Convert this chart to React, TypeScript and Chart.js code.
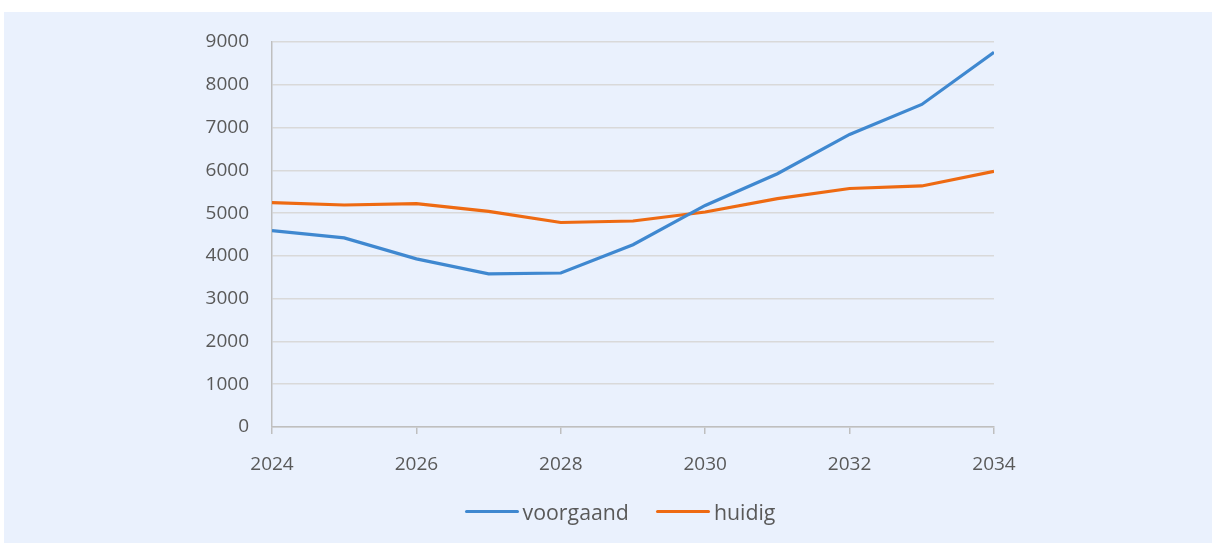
import React, { useEffect, useRef } from "react";
import { Chart, registerables } from "chart.js";

Chart.register(...registerables);

const years = [2024, 2025, 2026, 2027, 2028, 2029, 2030, 2031, 2032, 2033, 2034];
const voorgaand = [4590, 4420, 3930, 3580, 3600, 4260, 5180, 5920, 6840, 7540, 8760];
const huidig = [5245, 5190, 5220, 5040, 4780, 4815, 5025, 5340, 5575, 5635, 5975];
const seriesNames = ["voorgaand", "huidig"];
const seriesColors = ["#3F88D0", "#EE6A12"];

const FONT = "'Open Sans', 'Noto Sans', sans-serif";
const TEXT = "#595959";

export default function App() {
  const ref = useRef<HTMLCanvasElement | null>(null);

  useEffect(() => {
    if (!ref.current) return;
    const chart = new Chart(ref.current, {
      type: "line",
      data: {
        datasets: [voorgaand, huidig].map((vals, i) => ({
          label: seriesNames[i],
          data: years.map((y, j) => ({ x: y, y: vals[j] })),
          borderColor: seriesColors[i],
          backgroundColor: seriesColors[i],
          borderWidth: 3.2,
          pointRadius: 0,
          tension: 0,
          fill: false,
        })),
      },
      options: {
        responsive: false,
        animation: false,
        layout: { padding: { left: 0, right: 218, top: 30, bottom: 0 } },
        plugins: { legend: { display: false }, tooltip: { enabled: false } },
        scales: {
          x: {
            type: "linear",
            min: 2024,
            max: 2034,
            afterFit: (s: any) => { s.height = 116; s.paddingLeft = 0; s.paddingRight = 0; },
            border: { display: true, color: "#BFBFBF", width: 1.5 },
            grid: { drawOnChartArea: false, drawTicks: true, tickLength: 7, color: "#BFBFBF", lineWidth: 1.5 },
            ticks: {
              stepSize: 2,
              padding: 19,
              color: TEXT,
              font: { family: FONT, size: 19 },
              callback: (v: any) => String(v),
            },
          },
          y: {
            min: 0,
            max: 9000,
            afterFit: (s: any) => { s.width = 268; s.paddingTop = 0; s.paddingBottom = 0; },
            border: { display: true, color: "#BFBFBF", width: 1.5 },
            grid: { color: "#D9D9D9", lineWidth: 1.5, drawTicks: false },
            ticks: {
              stepSize: 1000,
              padding: 23,
              color: TEXT,
              font: { family: FONT, size: 19 },
              callback: (v: any) => String(v),
            },
          },
        },
      },
    });
    return () => chart.destroy();
  }, []);

  return (
    <div style={{ position: "absolute", left: 4, top: 12, width: 1208, height: 531, background: "#EAF1FD" }}>
      <canvas ref={ref} width={1208} height={531} style={{ position: "absolute", left: 0, top: 0, width: 1208, height: 531 }} />
      <div
        style={{
          position: "absolute",
          left: 0,
          top: 485,
          width: 1232,
          display: "flex",
          justifyContent: "center",
          alignItems: "center",
          fontFamily: FONT,
          fontSize: 21.3,
          color: TEXT,
        }}
      >
        {seriesNames.map((n, i) => (
          <div key={n} style={{ display: "flex", alignItems: "center", marginRight: i === 0 ? 27 : 0 }}>
            <span style={{ display: "inline-block", width: 54, height: 3.5, borderRadius: 2, background: seriesColors[i], marginRight: 4 }} />
            <span>{n}</span>
          </div>
        ))}
      </div>
    </div>
  );
}
